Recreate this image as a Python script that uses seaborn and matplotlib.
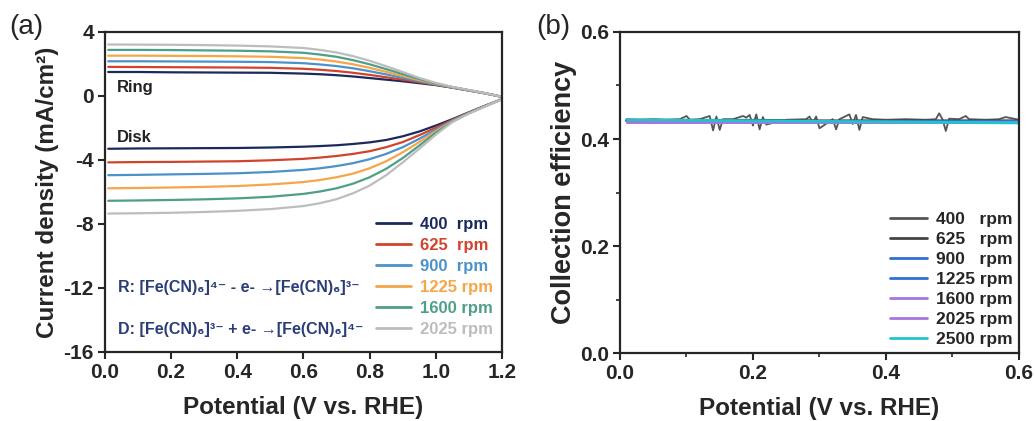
import numpy as np
import pandas as pd
import matplotlib
matplotlib.use("Agg")
import matplotlib.pyplot as plt
import seaborn as sns
from matplotlib.lines import Line2D
from matplotlib.ticker import MultipleLocator

# ---------------- data: panel (a) ----------------
potential = [0.01, 0.1, 0.2, 0.3, 0.4, 0.5, 0.6, 0.65, 0.7, 0.75, 0.8, 0.85, 0.9, 0.95, 1.0, 1.05, 1.1, 1.15, 1.2]
rpm_labels_a = ["400  rpm", "625  rpm", "900  rpm", "1225 rpm", "1600 rpm", "2025 rpm"]
ring_400 = [1.50, 1.50, 1.48, 1.47, 1.46, 1.45, 1.40, 1.36, 1.30, 1.22, 1.12, 1.02, 0.92, 0.80, 0.68, 0.52, 0.34, 0.16, -0.05]
ring_625 = [1.82, 1.81, 1.80, 1.79, 1.78, 1.76, 1.70, 1.64, 1.56, 1.45, 1.32, 1.17, 1.02, 0.86, 0.70, 0.53, 0.35, 0.16, -0.05]
ring_900 = [2.17, 2.17, 2.16, 2.15, 2.14, 2.12, 2.05, 1.97, 1.87, 1.73, 1.55, 1.35, 1.13, 0.92, 0.72, 0.54, 0.36, 0.17, -0.05]
ring_1225 = [2.52, 2.52, 2.51, 2.50, 2.48, 2.45, 2.37, 2.28, 2.15, 1.98, 1.76, 1.51, 1.25, 0.99, 0.75, 0.55, 0.36, 0.17, -0.05]
ring_1600 = [2.88, 2.88, 2.87, 2.85, 2.83, 2.79, 2.70, 2.59, 2.45, 2.24, 1.98, 1.68, 1.37, 1.06, 0.78, 0.56, 0.36, 0.17, -0.05]
ring_2025 = [3.22, 3.21, 3.20, 3.18, 3.15, 3.10, 3.00, 2.88, 2.72, 2.49, 2.20, 1.86, 1.50, 1.13, 0.82, 0.57, 0.37, 0.17, -0.05]
disk_400 = [-3.30, -3.28, -3.27, -3.26, -3.25, -3.22, -3.17, -3.13, -3.08, -3.00, -2.90, -2.75, -2.52, -2.22, -1.85, -1.45, -1.02, -0.60, -0.20]
disk_625 = [-4.15, -4.13, -4.12, -4.10, -4.08, -4.02, -3.93, -3.85, -3.75, -3.62, -3.45, -3.20, -2.88, -2.45, -1.98, -1.50, -1.04, -0.61, -0.20]
disk_900 = [-4.95, -4.93, -4.90, -4.87, -4.83, -4.75, -4.62, -4.52, -4.38, -4.20, -3.95, -3.62, -3.20, -2.68, -2.10, -1.54, -1.06, -0.62, -0.20]
disk_1225 = [-5.77, -5.75, -5.72, -5.68, -5.63, -5.53, -5.38, -5.25, -5.08, -4.85, -4.52, -4.08, -3.52, -2.88, -2.20, -1.57, -1.07, -0.63, -0.20]
disk_1600 = [-6.55, -6.53, -6.50, -6.46, -6.40, -6.30, -6.12, -5.97, -5.77, -5.48, -5.08, -4.55, -3.88, -3.10, -2.30, -1.60, -1.08, -0.64, -0.20]
disk_2025 = [-7.35, -7.33, -7.30, -7.25, -7.18, -7.07, -6.88, -6.70, -6.45, -6.08, -5.60, -4.95, -4.15, -3.30, -2.42, -1.63, -1.10, -0.65, -0.20]
colors_a = ["#1b2a5c", "#d2432c", "#4b92ca", "#f6a548", "#4e9e89", "#bdbdbd"]

# ---------------- data: panel (b) ----------------
ce_x = [0.01, 0.1, 0.2, 0.3, 0.4, 0.5, 0.6]
ce_625 = [0.435, 0.435, 0.435, 0.434, 0.434, 0.434, 0.434]
ce_900 = [0.434, 0.434, 0.434, 0.433, 0.433, 0.433, 0.433]
ce_1225 = [0.434, 0.434, 0.433, 0.433, 0.433, 0.433, 0.433]
ce_1600 = [0.431, 0.431, 0.431, 0.431, 0.431, 0.431, 0.431]
ce_2025 = [0.431, 0.431, 0.431, 0.431, 0.431, 0.431, 0.431]
ce_2500 = [0.436, 0.435, 0.434, 0.433, 0.432, 0.431, 0.430]
ce400_x = [0.01, 0.03, 0.05, 0.07, 0.09, 0.10, 0.105, 0.12, 0.135, 0.14, 0.145, 0.15, 0.155, 0.17,
           0.185, 0.19, 0.195, 0.20, 0.205, 0.21, 0.215, 0.22, 0.25, 0.28, 0.285, 0.29, 0.295, 0.30,
           0.32, 0.325, 0.33, 0.345, 0.35, 0.355, 0.36, 0.365, 0.38, 0.40, 0.43, 0.46, 0.475, 0.48,
           0.485, 0.49, 0.495, 0.51, 0.52, 0.525, 0.55, 0.57, 0.58, 0.60]
ce400_y = [0.437, 0.436, 0.437, 0.436, 0.437, 0.443, 0.436, 0.437, 0.443, 0.416, 0.442, 0.417, 0.437, 0.437,
           0.443, 0.440, 0.445, 0.425, 0.446, 0.418, 0.441, 0.427, 0.436, 0.437, 0.442, 0.430, 0.442, 0.420,
           0.437, 0.418, 0.437, 0.446, 0.428, 0.445, 0.417, 0.441, 0.437, 0.436, 0.437, 0.436, 0.437, 0.448,
           0.437, 0.415, 0.438, 0.437, 0.443, 0.437, 0.436, 0.437, 0.441, 0.436]
rpm_labels_b = ["400   rpm", "625   rpm", "900   rpm", "1225 rpm", "1600 rpm", "2025 rpm", "2500 rpm"]
colors_b = ["#555555", "#444444", "#2d6fd4", "#2d6fd4", "#a676dc", "#a676dc", "#22c4c8"]

# ---------------- style ----------------
sns.set_style("ticks")
plt.rcParams["font.family"] = ["Liberation Sans", "DejaVu Sans"]
plt.rcParams["font.weight"] = "bold"
plt.rcParams["axes.linewidth"] = 1.6

fig = plt.figure(figsize=(10.35, 4.21), dpi=100)
ax1 = fig.add_axes([0.1014, 0.164, 0.3836, 0.760])
ax2 = fig.add_axes([0.599, 0.1615, 0.3855, 0.7625])

TICK_FS = 15
LABEL_FS = 17.5

# panel (a)
ring_sets = [ring_400, ring_625, ring_900, ring_1225, ring_1600, ring_2025]
disk_sets = [disk_400, disk_625, disk_900, disk_1225, disk_1600, disk_2025]
rows = []
for lab, r, d in zip(rpm_labels_a, ring_sets, disk_sets):
    for v, rv, dv in zip(potential, r, d):
        rows.append({"V": v, "j": rv, "rpm": lab, "kind": "ring"})
        rows.append({"V": v, "j": dv, "rpm": lab, "kind": "disk"})
dfa = pd.DataFrame(rows)
pal_a = dict(zip(rpm_labels_a, colors_a))
for kind in ["ring", "disk"]:
    sub = dfa[dfa["kind"] == kind]
    sns.lineplot(data=sub, x="V", y="j", hue="rpm", palette=pal_a, ax=ax1,
                 legend=False, linewidth=1.6, estimator=None, sort=False)

ax1.set_xlim(0, 1.2)
ax1.set_ylim(-16, 4)
ax1.set_xticks(np.arange(0, 1.21, 0.2))
ax1.set_yticks(np.arange(-16, 4.1, 4))
ax1.set_xticklabels([f"{t:.1f}" for t in np.arange(0, 1.21, 0.2)])
ax1.set_yticklabels([f"{int(t)}" for t in np.arange(-16, 4.1, 4)])
ax1.set_xlabel("Potential (V vs. RHE)", fontsize=LABEL_FS, fontweight="bold", labelpad=10)
ax1.set_ylabel("Current density (mA/cm²)", fontsize=LABEL_FS, fontweight="bold", labelpad=3)
ax1.tick_params(axis="both", labelsize=TICK_FS, width=1.5, length=5, direction="out", pad=3)
for lab in ax1.get_xticklabels() + ax1.get_yticklabels():
    lab.set_fontweight("bold")

ax1.text(0.035, 0.5, "Ring", fontsize=12, fontweight="bold", color="#222222", va="center")
ax1.text(0.035, -2.6, "Disk", fontsize=12, fontweight="bold", color="#222222", va="center")
ax1.text(0.04, -12.0, "R: [Fe(CN)₆]⁴⁻ - e- →[Fe(CN)₆]³⁻", fontsize=11.5, fontweight="bold",
         color="#2a3d78", va="center")
ax1.text(0.04, -14.6, "D: [Fe(CN)₆]³⁻ + e- →[Fe(CN)₆]⁴⁻", fontsize=11.5, fontweight="bold",
         color="#2a3d78", va="center")

handles_a = [Line2D([0], [0], color=c, lw=2) for c in colors_a]
ax1.legend(handles_a, rpm_labels_a, loc="lower right", frameon=False,
           labelcolor=colors_a, handlelength=2.1, handletextpad=0.55, labelspacing=0.36,
           bbox_to_anchor=(1.015, 0.0), prop={"weight": "bold", "size": 12})

fig.text(0.009, 0.935, "(a)", fontsize=20, fontweight="normal", va="center")

# panel (b)
rows_b = []
for lab, ys in zip(rpm_labels_b[1:], [ce_625, ce_900, ce_1225, ce_1600, ce_2025, ce_2500]):
    for xv, yv in zip(ce_x, ys):
        rows_b.append({"V": xv, "ce": yv, "rpm": lab})
for xv, yv in zip(ce400_x, ce400_y):
    rows_b.append({"V": xv, "ce": yv, "rpm": rpm_labels_b[0]})
dfb = pd.DataFrame(rows_b)
pal_b = dict(zip(rpm_labels_b, colors_b))
for lab in rpm_labels_b:
    sub = dfb[dfb["rpm"] == lab]
    sns.lineplot(data=sub, x="V", y="ce", color=pal_b[lab], ax=ax2, legend=False,
                 linewidth=2.0 if lab != rpm_labels_b[0] else 1.3, estimator=None, sort=False)

ax2.set_xlim(0, 0.6)
ax2.set_ylim(0, 0.6)
ax2.set_xticks([0.0, 0.2, 0.4, 0.6])
ax2.set_yticks([0.0, 0.2, 0.4, 0.6])
ax2.set_xticklabels(["0.0", "0.2", "0.4", "0.6"])
ax2.set_yticklabels(["0.0", "0.2", "0.4", "0.6"])
ax2.xaxis.set_minor_locator(MultipleLocator(0.1))
ax2.yaxis.set_minor_locator(MultipleLocator(0.1))
ax2.set_xlabel("Potential (V vs. RHE)", fontsize=LABEL_FS, fontweight="bold", labelpad=10)
ax2.set_ylabel("Collection efficiency", fontsize=19.5, fontweight="bold", labelpad=2)
ax2.tick_params(axis="both", which="major", labelsize=TICK_FS, width=1.5, length=5, direction="out", pad=3)
ax2.tick_params(axis="both", which="minor", width=1.2, length=3, direction="out")
for lab in ax2.get_xticklabels() + ax2.get_yticklabels():
    lab.set_fontweight("bold")

handles_b = [Line2D([0], [0], color=c, lw=2) for c in colors_b]
ax2.legend(handles_b, rpm_labels_b, loc="lower right", frameon=False,
           handlelength=2.1, handletextpad=0.55, labelspacing=0.28,
           bbox_to_anchor=(1.025, -0.03), prop={"weight": "bold", "size": 12.5})

fig.text(0.518, 0.935, "(b)", fontsize=20, fontweight="normal", va="center")

fig.savefig("out.png", dpi=100)
